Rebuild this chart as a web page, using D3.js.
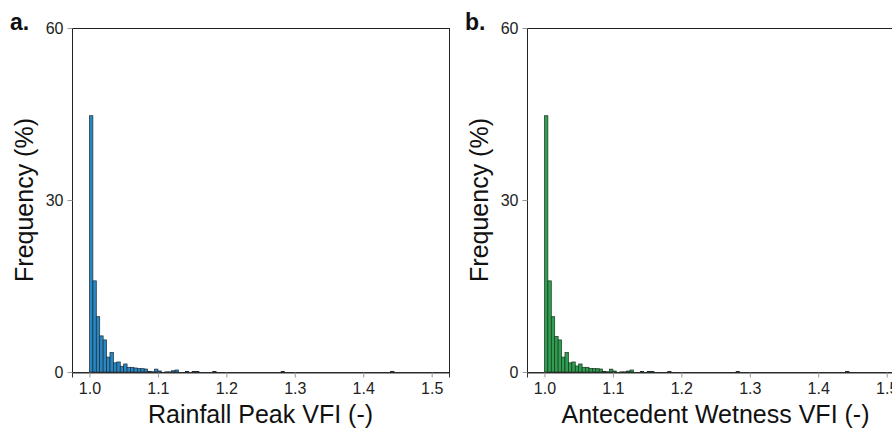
<!DOCTYPE html>
<html>
<head>
<meta charset="utf-8">
<script src="https://cdn.jsdelivr.net/npm/d3@7"></script>
<style>
  body { margin: 0; background: #fff; }
  svg { font-family: "Liberation Sans", Arial, sans-serif; }
  .tick text { fill: #222; }
</style>
</head>
<body>
<div id="chart"></div>
<script>
// Histogram of VFI values, two panels

// bin starts (width 0.005) and frequency (%) per bin
const binWidth = 0.005
const binStarts = [1.000, 1.005, 1.010, 1.015, 1.020, 1.025, 1.030, 1.035, 1.040, 1.045,
  1.050, 1.055, 1.060, 1.065, 1.070, 1.075, 1.080, 1.085, 1.090, 1.095,
  1.100, 1.110, 1.115, 1.120, 1.125, 1.140, 1.150, 1.155, 1.180, 1.280, 1.440]
const freqRainfall = [44.7, 15.9, 9.65, 6.3, 5.6, 2.6, 3.4, 1.6, 1.75, 1.0,
  1.4, 0.82, 0.82, 0.7, 0.6, 0.58, 0.52, 0.12, 0.05, 0.5,
  0.18, 0.03, 0.03, 0.22, 0.35, 0.08, 0.08, 0.08, 0.08, 0.08, 0.08]
const freqWetness = [44.7, 15.9, 9.65, 6.2, 5.6, 2.6, 3.4, 1.6, 1.75, 1.05,
  1.4, 0.82, 0.82, 0.64, 0.6, 0.58, 0.52, 0.12, 0.05, 0.5,
  0.17, 0.03, 0.03, 0.17, 0.35, 0.08, 0.08, 0.08, 0.08, 0.08, 0.08]

const xTicks = [1.0, 1.1, 1.2, 1.3, 1.4, 1.5]
const yTicks = [0, 30, 60]

const width = 892
const height = 431
const panelW = 377
const plotTop = 28
const plotBottom = 372

const svg = d3.select('#chart')
  .append('svg')
  .attr('width', width)
  .attr('height', height)

function drawPanel(left, freqs, fill, stroke, xLabel, letter) {
  const g = svg.append('g').attr('transform', `translate(${left}, 0)`)

  const xScale = d3.scaleLinear()
    .domain([0.9745, 1.5253])
    .range([0, panelW])

  const yScale = d3.scaleLinear()
    .domain([0, 60])
    .range([plotBottom, plotTop])

  const data = binStarts.map((b, i) => ({ x0: b, x1: b + binWidth, v: freqs[i] }))

  // bars
  g.selectAll('rect.bar')
    .data(data)
    .enter()
    .append('rect')
    .attr('class', 'bar')
    .attr('x', d => xScale(d.x0))
    .attr('width', d => xScale(d.x1) - xScale(d.x0))
    .attr('y', d => yScale(d.v))
    .attr('height', d => plotBottom - yScale(d.v))
    .attr('fill', fill)
    .attr('stroke', stroke)
    .attr('stroke-width', 0.7)

  // frame
  g.append('rect')
    .attr('x', 0.5)
    .attr('y', plotTop + 0.5)
    .attr('width', panelW)
    .attr('height', plotBottom - plotTop)
    .attr('fill', 'none')
    .attr('stroke', '#222')
    .attr('stroke-width', 1)

  // axes
  const xAxis = g.append('g')
    .attr('transform', `translate(0, ${plotBottom + 0.5})`)
    .call(d3.axisBottom(xScale).tickValues(xTicks).tickFormat(d3.format('.1f')).tickSize(5).tickPadding(5))
  xAxis.select('.domain').attr('stroke', '#333')
  xAxis.selectAll('.tick line').attr('stroke', '#999')
  xAxis.selectAll('text').attr('font-size', 16)

  const yAxis = g.append('g')
    .attr('transform', 'translate(0.5, 0)')
    .call(d3.axisLeft(yScale).tickValues(yTicks).tickSize(5).tickPadding(4))
  yAxis.select('.domain').remove()
  yAxis.selectAll('.tick line').attr('stroke', '#999')
  yAxis.selectAll('text').attr('font-size', 16)

  // labels
  g.append('text')
    .attr('x', panelW / 2)
    .attr('y', 423)
    .attr('text-anchor', 'middle')
    .attr('font-size', 25)
    .attr('fill', '#111')
    .text(xLabel)

  g.append('text')
    .attr('transform', `translate(-39, ${(plotTop + plotBottom) / 2}) rotate(-90)`)
    .attr('text-anchor', 'middle')
    .attr('font-size', 25)
    .attr('fill', '#111')
    .text('Frequency (%)')

  g.append('text')
    .attr('x', -62)
    .attr('y', 30)
    .attr('font-size', 23)
    .attr('font-weight', 'bold')
    .attr('fill', '#111')
    .text(letter)
}

drawPanel(72, freqRainfall, '#2887c2', '#1b2c38', 'Rainfall Peak VFI (-)', 'a.')
drawPanel(527, freqWetness, '#2e9e4f', '#1b3322', 'Antecedent Wetness VFI (-)', 'b.')
</script>
</body>
</html>
